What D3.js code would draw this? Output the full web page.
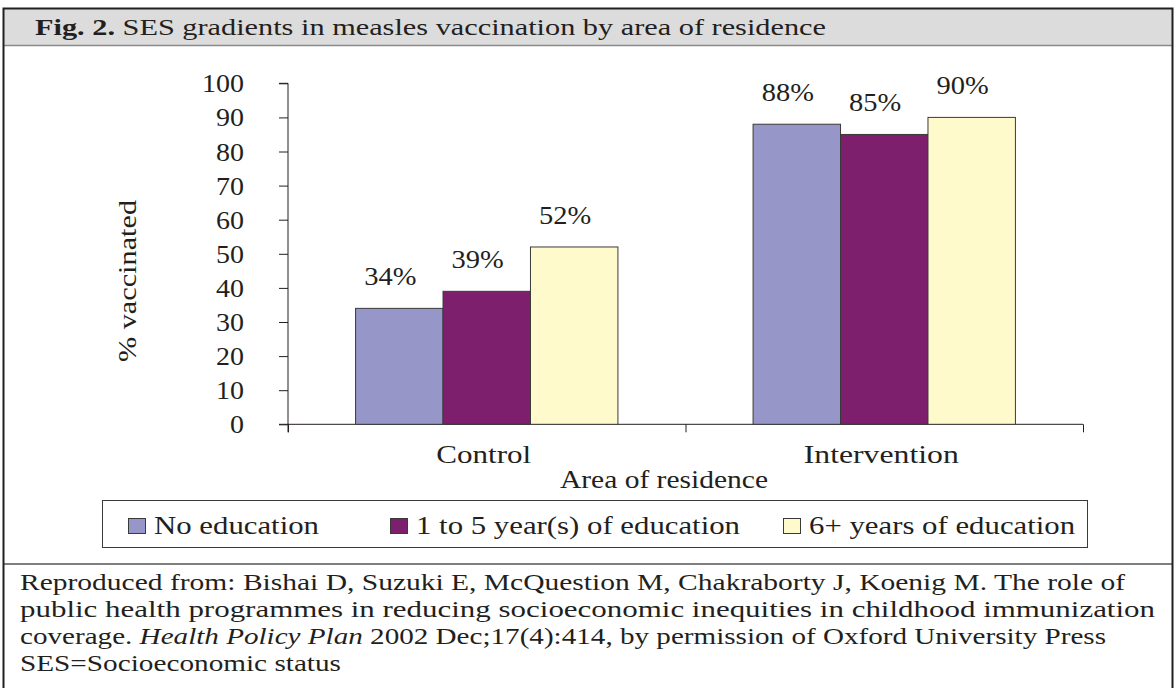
<!DOCTYPE html>
<html>
<head>
<meta charset="utf-8">
<script src="https://cdn.jsdelivr.net/npm/d3@7"></script>
<style>
  html, body { margin: 0; padding: 0; background: #fff; }
  svg { display: block; }
  text { font-family: "Liberation Serif", "Times New Roman", serif; fill: #231f20; }
</style>
</head>
<body>
<svg id="chart" width="1176" height="688"></svg>
<script>
// ---- data ----
const categories = ["Control", "Intervention"];
const seriesNames = ["No education", "1 to 5 year(s) of education", "6+ years of education"];
const noEducation = [34, 88];
const oneToFive = [39, 85];
const sixPlus = [52, 90];
const yTicks = [0, 10, 20, 30, 40, 50, 60, 70, 80, 90, 100];
const titleBold = "Fig. 2.";
const titleRest = " SES gradients in measles vaccination by area of residence";
const yTitle = "% vaccinated";
const xTitle = "Area of residence";
const footerLines = [
  ["Reproduced from: Bishai D, Suzuki E, McQuestion M, Chakraborty J, Koenig M. The role of"],
  ["public health programmes in reducing socioeconomic inequities in childhood immunization"],
  ["coverage. ", "Health Policy Plan", " 2002 Dec;17(4):414, by permission of Oxford University Press"],
  ["SES=Socioeconomic status"]
];

const seriesValues = [noEducation, oneToFive, sixPlus];
const colors = ["#9696c8", "#7e1f6d", "#fffacc"];

const svg = d3.select("#chart");

// fit text horizontally to a target width
function fit(sel, w) {
  sel.attr("textLength", w).attr("lengthAdjust", "spacingAndGlyphs");
}
function stretch(sel, k) {
  sel.each(function() {
    const n = this.getComputedTextLength();
    d3.select(this).attr("textLength", n * k).attr("lengthAdjust", "spacingAndGlyphs");
  });
}

// ---- frame ----
svg.append("rect").attr("x", 3).attr("y", 8.5).attr("width", 1170).attr("height", 37)
  .attr("fill", "#dcdcdc");
svg.append("line").attr("x1", 3).attr("x2", 1173).attr("y1", 45.5).attr("y2", 45.5)
  .attr("stroke", "#8a8a8a").attr("stroke-width", 1.5);
svg.append("line").attr("x1", 3).attr("x2", 1173).attr("y1", 564).attr("y2", 564)
  .attr("stroke", "#555").attr("stroke-width", 1.5);
svg.append("path").attr("d", "M3.5,700 V8.5 H1172.5 V700")
  .attr("fill", "none").attr("stroke", "#231f20").attr("stroke-width", 2);

// ---- title ----
const title = svg.append("text").attr("x", 35).attr("y", 35).style("font-size", "23px");
title.append("tspan").attr("font-weight", "bold").text(titleBold);
title.append("tspan").text(titleRest);
fit(title, 791);

// ---- scales ----
const x0 = 288, x1 = 1083, yTop = 83.3, yBot = 424.3;
const x = d3.scaleBand().domain(categories).range([x0, x1]).paddingInner(0.34).paddingOuter(0.17);
const xs = d3.scaleBand().domain(d3.range(seriesNames.length)).range([0, x.bandwidth()]).padding(0);
const y = d3.scaleLinear().domain([0, 100]).range([yBot, yTop]);

// ---- y axis ----
const yAxis = svg.append("g").attr("transform", `translate(${x0},0)`)
  .call(d3.axisLeft(y).tickValues(yTicks).tickSize(9).tickPadding(35).tickFormat(d3.format("d")));
yAxis.select(".domain").attr("d", `M-9,${yTop}H0V${yBot + 8}`).attr("stroke", "#231f20");
yAxis.selectAll(".tick line").attr("stroke", "#231f20");
yAxis.selectAll(".tick text").style("font-size", "25px").attr("fill", "#231f20")
  .style("font-family", '"Liberation Serif", serif').attr("dy", "0.34em")
  .call(s => stretch(s, 1.12));

// ---- x axis line and ticks (band boundaries) ----
const xb = d3.scaleLinear().domain([0, categories.length]).range([x0, x1]);
const xAxis = svg.append("g").attr("transform", `translate(0,${yBot})`)
  .call(d3.axisBottom(xb).ticks(categories.length).tickSize(8).tickFormat(""));
xAxis.select(".domain").attr("d", `M${x0 - 9},0H${x1}`).attr("stroke", "#231f20");
xAxis.selectAll(".tick line").attr("stroke", "#231f20");

// ---- bars ----
const groups = svg.append("g").selectAll("g").data(categories).join("g")
  .attr("transform", d => `translate(${x(d)},0)`);
groups.each(function(cat, ci) {
  const g = d3.select(this);
  seriesValues.forEach((vals, si) => {
    g.append("rect")
      .attr("x", xs(si)).attr("y", y(vals[ci]))
      .attr("width", xs.bandwidth()).attr("height", y(0) - y(vals[ci]))
      .attr("fill", colors[si]).attr("stroke", "#3a3a3a").attr("stroke-width", 1);
    g.append("text")
      .attr("x", xs(si) + xs.bandwidth() / 2 - 9)
      .attr("y", y(vals[ci]) - 23)
      .attr("text-anchor", "middle")
      .style("font-size", "25px")
      .text(vals[ci] + "%")
      .call(s => stretch(s, 1.14));
  });
});

// ---- category labels ----
svg.append("g").selectAll("text").data(categories).join("text")
  .attr("x", d => x(d) + x.bandwidth() / 2 - 3)
  .attr("y", 463)
  .attr("text-anchor", "middle")
  .style("font-size", "25px")
  .text(d => d)
  .each(function(d, i) { fit(d3.select(this), i === 0 ? 95 : 155); });

// ---- axis titles ----
svg.append("text").attr("x", 664).attr("y", 488).attr("text-anchor", "middle")
  .style("font-size", "25px").text(xTitle).call(s => fit(s, 208));
svg.append("text").attr("transform", "translate(136,281) rotate(-90)")
  .attr("text-anchor", "middle").style("font-size", "25px").text(yTitle).call(s => fit(s, 162));

// ---- legend ----
svg.append("rect").attr("x", 102.5).attr("y", 500.5).attr("width", 985).attr("height", 47)
  .attr("fill", "#fff").attr("stroke", "#3a3a3a").attr("stroke-width", 1);
const legendX = [128, 390, 783];
const lg = svg.append("g").selectAll("g").data(seriesNames).join("g")
  .attr("transform", (d, i) => `translate(${legendX[i]},0)`);
lg.append("rect").attr("x", 0.5).attr("y", 518.5).attr("width", 17).attr("height", 15)
  .attr("fill", (d, i) => colors[i]).attr("stroke", "#3a3a3a").attr("stroke-width", 1);
const lgText = lg.append("text").attr("x", 26).attr("y", 534).style("font-size", "25px").text(d => d);
const lgK = 165 / lgText.node().getComputedTextLength();
stretch(lgText, lgK);

// ---- footer ----
const footerW = [1105, 1135, 1086, 321];
footerLines.forEach((parts, i) => {
  const t = svg.append("text").attr("x", 20).attr("y", 590 + i * 27).style("font-size", "24px");
  parts.forEach((p, j) => {
    t.append("tspan").attr("font-style", (parts.length === 3 && j === 1) ? "italic" : null).text(p);
  });
  fit(t, footerW[i]);
});
</script>
</body>
</html>
